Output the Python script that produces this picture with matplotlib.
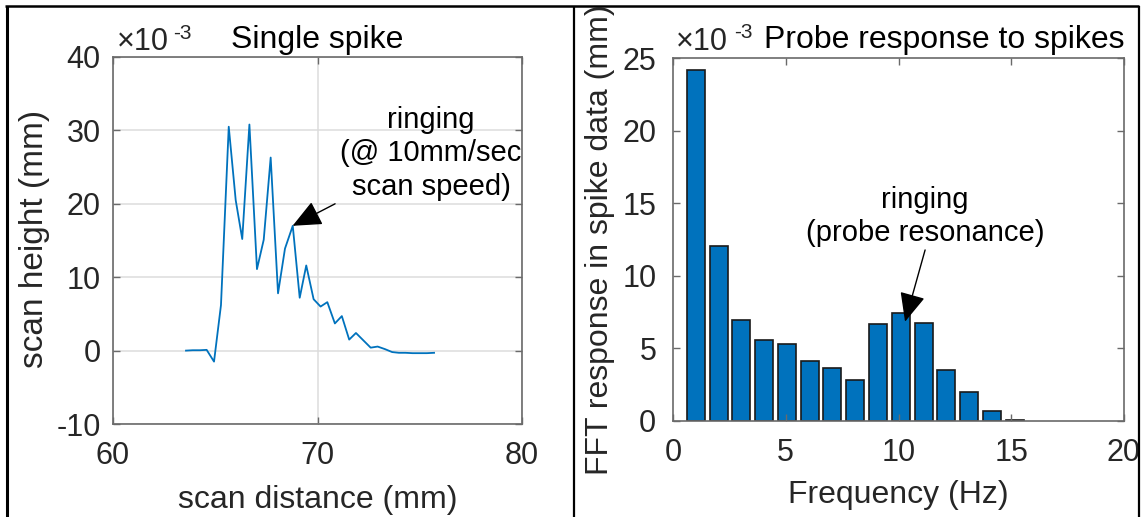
import matplotlib
matplotlib.use("Agg")
import matplotlib.pyplot as plt
from matplotlib.lines import Line2D

plt.rcParams['font.family'] = ['Liberation Sans', 'DejaVu Sans']
plt.rcParams['axes.unicode_minus'] = False

# ---------------- data ----------------
# Left panel: single spike profile (x in mm, height in 1e-3 mm)
scan_x = [63.57, 63.9, 64.25, 64.58, 64.94, 65.28, 65.66, 66.0, 66.32, 66.67,
          67.04, 67.37, 67.71, 68.07, 68.41, 68.79, 69.13, 69.45, 69.81, 70.15,
          70.48, 70.85, 71.19, 71.55, 71.88, 72.24, 72.6, 72.94, 73.3, 73.65,
          73.98, 74.3, 74.65, 75.0, 75.35, 75.7]
scan_h = [0.0, 0.05, 0.05, 0.1, -1.5, 6.2, 30.5, 20.5, 15.2, 30.8,
          11.1, 15.1, 26.3, 7.8, 13.9, 17.0, 7.2, 11.6, 7.0, 6.0,
          6.6, 3.7, 4.7, 1.5, 2.4, 1.4, 0.4, 0.55, 0.2, -0.2,
          -0.3, -0.3, -0.35, -0.35, -0.35, -0.3]

# Right panel: FFT response (frequency Hz, amplitude in 1e-3 mm)
freq = [1.01, 2.02, 3.03, 4.04, 5.05, 6.06, 7.07, 8.08, 9.09, 10.1,
        11.11, 12.12, 13.13, 14.14, 15.15]
fft_amp = [24.2, 12.05, 6.95, 5.6, 5.27, 4.12, 3.68, 2.83, 6.65, 7.47,
           6.72, 3.48, 1.98, 0.7, 0.07]

left_xticks = [60, 70, 80]
left_yticks = [-10, 0, 10, 20, 30, 40]
right_xticks = [0, 5, 10, 15, 20]
right_yticks = [0, 5, 10, 15, 20, 25]

# ---------------- figure ----------------
W, H = 1141, 517
fig = plt.figure(figsize=(W / 100, H / 100), dpi=100)

def ax_rect(x0, y0, x1, y1):
    return [x0 / W, 1 - y1 / H, (x1 - x0) / W, (y1 - y0) / H]

TXT = '#262626'
SPINE = '#6a6a6a'
FS = 22

def style_axes(ax):
    for s in ax.spines.values():
        s.set_color(SPINE)
        s.set_linewidth(1.2)
    ax.tick_params(direction='in', length=5, width=1, color=SPINE,
                   labelsize=FS, labelcolor=TXT, top=True, right=True)

# ---------- left ----------
axL = fig.add_axes(ax_rect(113, 57, 522, 424))
axL.plot(scan_x, scan_h, color='#0072BD', lw=1.3)
axL.set_xlim(60, 80)
axL.set_ylim(-10, 40)
axL.set_xticks(left_xticks)
axL.set_yticks(left_yticks)
axL.grid(True, color='#dcdcdc', lw=1.1)
axL.set_axisbelow(True)
style_axes(axL)
axL.tick_params(axis='x', pad=12)
axL.tick_params(axis='y', pad=9)
axL.set_xlabel('scan distance (mm)', fontsize=23, color=TXT, va='center')
axL.xaxis.set_label_coords(0.5, -0.207)
axL.set_ylabel('scan height (mm)', fontsize=24, color=TXT, va='center')
axL.yaxis.set_label_coords(-0.191, 0.504)
axL.text(0.5, 1.0245, 'Single spike', transform=axL.transAxes, ha='center',
         va='baseline', fontsize=23, color='black')
axL.text(0.01, 1.019, '×10', transform=axL.transAxes, ha='left',
         va='baseline', fontsize=FS, color=TXT)
axL.text(0.146, 1.05, '-3', transform=axL.transAxes, ha='left',
         va='baseline', fontsize=15, color=TXT)
axL.text(75.55, 26.9, 'ringing\n(@ 10mm/sec\nscan speed)', ha='center',
         va='center', fontsize=21, color='black', linespacing=1.25,
         clip_on=True)
axL.annotate('', xy=(68.78, 17.0), xytext=(70.86, 20.0),
             arrowprops=dict(arrowstyle='-|>,head_length=0.9,head_width=0.4',
                             color='black', lw=1.0, mutation_scale=20,
                             shrinkA=0, shrinkB=0))

# ---------- right ----------
axR = fig.add_axes(ax_rect(673, 58, 1124, 421))
axR.bar(freq, fft_amp, width=0.8, color='#0072BD', edgecolor='#1a1a1a',
        linewidth=1.2)
axR.set_xlim(0, 20)
axR.set_ylim(0, 25)
axR.set_xticks(right_xticks)
axR.set_yticks(right_yticks)
style_axes(axR)
axR.tick_params(axis='x', pad=12)
axR.tick_params(axis='y', pad=12)
axR.set_xlabel('Frequency (Hz)', fontsize=23, color=TXT, va='center')
axR.xaxis.set_label_coords(0.5, -0.204)
axR.set_ylabel('FFT response in spike data (mm)', fontsize=23, color=TXT,
               va='center')
axR.yaxis.set_label_coords(-0.162, 0.5)
axR.text(1.0, 1.0275, 'Probe response to spikes', transform=axR.transAxes,
         ha='right', va='baseline', fontsize=23, color='black')
axR.text(0.006, 1.022, '×10', transform=axR.transAxes, ha='left',
         va='baseline', fontsize=FS, color=TXT)
axR.text(0.135, 1.055, '-3', transform=axR.transAxes, ha='left',
         va='baseline', fontsize=15, color=TXT)
axR.text(11.18, 14.1, 'ringing\n(probe resonance)', ha='center',
         va='center', fontsize=21, color='black', linespacing=1.25)
axR.annotate('', xy=(10.29, 6.84), xytext=(11.18, 11.78),
             arrowprops=dict(arrowstyle='-|>,head_length=0.9,head_width=0.4',
                             color='black', lw=1.0, mutation_scale=20,
                             shrinkA=0, shrinkB=0))

# ---------- panel frame ----------
def fline(x0, y0, x1, y1, lw):
    fig.add_artist(Line2D([x0 / W, x1 / W], [1 - y0 / H, 1 - y1 / H],
                          transform=fig.transFigure, color='black', lw=lw,
                          solid_capstyle='butt'))

fline(7, 6, 7, H, 2.2)
fline(5, 6, 1139, 6, 1.8)
fline(574, 6, 574, H, 1.6)
fline(1139, 6, 1139, H, 1.6)

fig.savefig('out.png', dpi=100)
